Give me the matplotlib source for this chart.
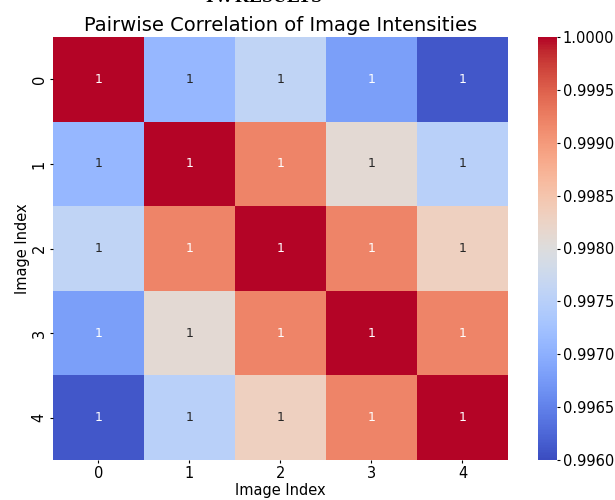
import numpy as np
import matplotlib.pyplot as plt
import seaborn as sns

# correlation between image intensities
indices = [0, 1, 2, 3, 4]
corr = np.array([
    [1.0000, 0.9971, 0.9976, 0.9968, 0.9961],
    [0.9971, 1.0000, 0.9992, 0.9981, 0.9975],
    [0.9976, 0.9992, 1.0000, 0.9992, 0.9983],
    [0.9968, 0.9981, 0.9992, 1.0000, 0.9992],
    [0.9961, 0.9975, 0.9983, 0.9992, 1.0000],
])
cbar_ticks = [0.996, 0.9965, 0.997, 0.9975, 0.998, 0.9985, 0.999, 0.9995, 1.0]

fig = plt.figure(figsize=(6.15, 5.0), dpi=100)
ax = fig.add_axes([0.086, 0.080, 0.740, 0.846])
cax = fig.add_axes([0.874, 0.080, 0.032, 0.846])

sns.heatmap(corr, ax=ax, cbar_ax=cax, cmap='coolwarm', vmin=0.996, vmax=1.0,
            annot=True, fmt='.0f', annot_kws={'fontsize': 9},
            xticklabels=indices, yticklabels=indices)

ax.set_title('Pairwise Correlation of Image Intensities', fontsize=14, pad=4)
ax.set_xlabel('Image Index', fontsize=10.5, labelpad=1)
ax.set_ylabel('Image Index', fontsize=10.5, labelpad=1)
ax.tick_params(labelsize=10.5, length=2.5, pad=2)
cax.set_yticks(cbar_ticks)
cax.set_yticklabels(['%.4f' % t for t in cbar_ticks])
cax.tick_params(labelsize=10.5, length=2, pad=2)

# header of the page, cut off at the top
fig.text(0.43, 1.005, 'IV. RESULTS', ha='center', va='center',
         fontsize=14, family='Liberation Serif', weight='bold')

fig.savefig('out.png', dpi=100)
